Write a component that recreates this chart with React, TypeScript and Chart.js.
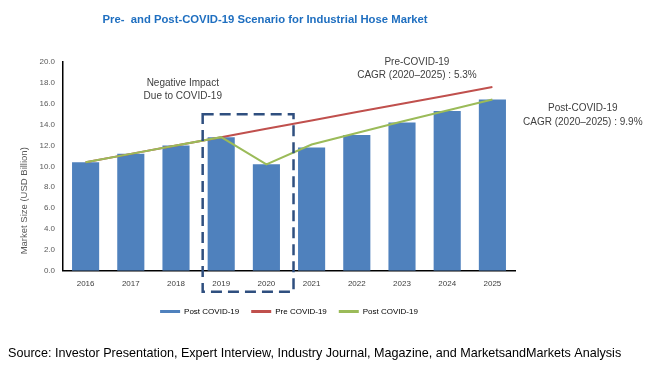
import React, { useEffect, useRef } from 'react';
import { Chart, registerables } from 'chart.js';

Chart.register(...registerables);

const years = ['2016', '2017', '2018', '2019', '2020', '2021', '2022', '2023', '2024', '2025'];
const postCovidBars = [10.4, 11.2, 12.0, 12.8, 10.2, 11.8, 13.0, 14.2, 15.3, 16.4];
const preCovidLine = [10.4, 11.2, 12.0, 12.8, 13.6, 14.4, 15.2, 16.0, 16.8, 17.6];
const postCovidLine = [10.4, 11.2, 12.0, 12.8, 10.2, 12.1, 13.2, 14.3, 15.35, 16.4];

const seriesNames = ['Post COVID-19', 'Pre COVID-19', 'Post COVID-19'];
const seriesColors = ['#4F81BD', '#C0504D', '#9BBB59'];

const titleText = 'Pre-  and Post-COVID-19 Scenario for Industrial Hose Market';
const sourceText = 'Source: Investor Presentation, Expert Interview, Industry Journal, Magazine, and MarketsandMarkets Analysis';
const yAxisTitle = 'Market Size (USD Billion)';
const negativeNote = ['Negative Impact', 'Due to COVID-19'];
const preNote = ['Pre-COVID-19', 'CAGR (2020\u20132025) : 5.3%'];
const postNote = ['Post-COVID-19', 'CAGR (2020\u20132025) : 9.9%'];

const BASE_FONT = "'Liberation Sans', Arial, sans-serif";

const annotationPlugin = {
  id: 'annotations',
  afterDatasetsDraw(chart: any) {
    const { ctx, chartArea } = chart;
    const xs = chart.scales.x;
    const ys = chart.scales.y;
    const w = xs.getPixelForValue(1) - xs.getPixelForValue(0);

    // dashed box around 2019-2020
    const left = xs.getPixelForValue(3) - 0.41 * w;
    const right = xs.getPixelForValue(4) + 0.6 * w;
    const top = ys.getPixelForValue(15);
    const bottom = ys.getPixelForValue(0) + 21;
    ctx.save();
    ctx.strokeStyle = '#2F4F7F';
    ctx.lineWidth = 2.5;
    ctx.setLineDash([11, 6]);
    ctx.strokeRect(left, top, right - left, bottom - top);
    ctx.restore();

    ctx.save();
    // chart title
    ctx.fillStyle = '#1F6FC0';
    ctx.font = `bold 11.3px ${BASE_FONT}`;
    ctx.textAlign = 'center';
    ctx.textBaseline = 'middle';
    ctx.fillText(titleText, xs.getPixelForValue(4) - 0.03 * w, 20);

    ctx.fillStyle = '#404040';
    ctx.font = `10px ${BASE_FONT}`;
    const drawLines = (lines: string[], x: number, y0: number, lh: number) => {
      lines.forEach((t, i) => ctx.fillText(t, x, y0 + i * lh));
    };
    drawLines(negativeNote, xs.getPixelForValue(2) + 0.15 * w, ys.getPixelForValue(18.0), 13);
    drawLines(preNote, xs.getPixelForValue(7) + 0.33 * w, ys.getPixelForValue(20.0), 13);
    drawLines(postNote, xs.getPixelForValue(9) + 2.0 * w, ys.getPixelForValue(15.6), 14);

    // y axis title
    ctx.translate(chartArea.left - 39, chartArea.bottom - 70);
    ctx.rotate(-Math.PI / 2);
    ctx.fillStyle = '#595959';
    ctx.font = `9.5px ${BASE_FONT}`;
    ctx.fillText(yAxisTitle, 0, 0);
    ctx.restore();
  },
};

export default function App() {
  const canvasRef = useRef<HTMLCanvasElement | null>(null);

  useEffect(() => {
    if (!canvasRef.current) return;
    const chart = new Chart(canvasRef.current, {
      type: 'bar',
      data: {
        labels: years,
        datasets: [
          {
            type: 'bar',
            label: seriesNames[0],
            data: postCovidBars,
            backgroundColor: seriesColors[0],
            barPercentage: 0.6,
            categoryPercentage: 1.0,
            order: 2,
          },
          {
            type: 'line',
            label: seriesNames[1],
            data: preCovidLine,
            borderColor: seriesColors[1],
            backgroundColor: seriesColors[1],
            borderWidth: 2,
            pointRadius: 0,
            tension: 0,
            order: 1,
          },
          {
            type: 'line',
            label: seriesNames[2],
            data: postCovidLine,
            borderColor: seriesColors[2],
            backgroundColor: seriesColors[2],
            borderWidth: 2,
            pointRadius: 0,
            tension: 0,
            order: 0,
          },
        ] as any,
      },
      options: {
        animation: false,
        responsive: false,
        layout: { padding: { left: 8, right: 0, top: 62, bottom: 0 } },
        plugins: {
          tooltip: { enabled: false },
          title: { display: false },
          subtitle: {
            display: true,
            position: 'bottom',
            align: 'start',
            text: sourceText,
            color: '#000000',
            font: { family: BASE_FONT, size: 12.6, weight: 'normal' },
            padding: { top: 21, bottom: 5.5 },
          },
          legend: {
            display: true,
            position: 'bottom',
            fullSize: false,
            labels: {
              color: '#7F7F7F',
              font: { family: BASE_FONT, size: 8 },
              boxWidth: 20,
              boxHeight: 3,
              padding: 12,
              generateLabels: () =>
                seriesNames.map((name, i) => ({
                  text: name,
                  fillStyle: seriesColors[i],
                  strokeStyle: seriesColors[i],
                  lineWidth: 0,
                  hidden: false,
                  datasetIndex: i,
                })),
            },
          },
        },
        scales: {
          x: {
            grid: { display: false, drawTicks: false },
            border: { display: true, color: '#000000', width: 1.5 },
            ticks: { color: '#404040', font: { family: BASE_FONT, size: 8 }, padding: 8 },
            afterFit: (scale: any) => {
              scale.height = 24.6;
            },
          },
          y: {
            min: 0,
            max: 20,
            grid: { display: false, drawTicks: false },
            border: { display: true, color: '#000000', width: 1.5 },
            ticks: {
              stepSize: 2,
              color: '#595959',
              font: { family: BASE_FONT, size: 8 },
              padding: 8,
              callback: (v: any) => Number(v).toFixed(1),
            },
            afterFit: (scale: any) => {
              scale.width = 55;
            },
          },
          y2: {
            position: 'right',
            display: true,
            grid: { display: false, drawTicks: false },
            border: { display: false },
            ticks: { display: false },
            afterFit: (scale: any) => {
              scale.width = 135;
            },
          },
        },
      } as any,
      plugins: [annotationPlugin],
    });
    return () => chart.destroy();
  }, []);

  return (
    <div style={{ position: 'fixed', left: 0, top: 0, width: 650, height: 367, background: '#ffffff' }}>
      <canvas ref={canvasRef} width={650} height={367} style={{ width: 650, height: 367 }} />
    </div>
  );
}
